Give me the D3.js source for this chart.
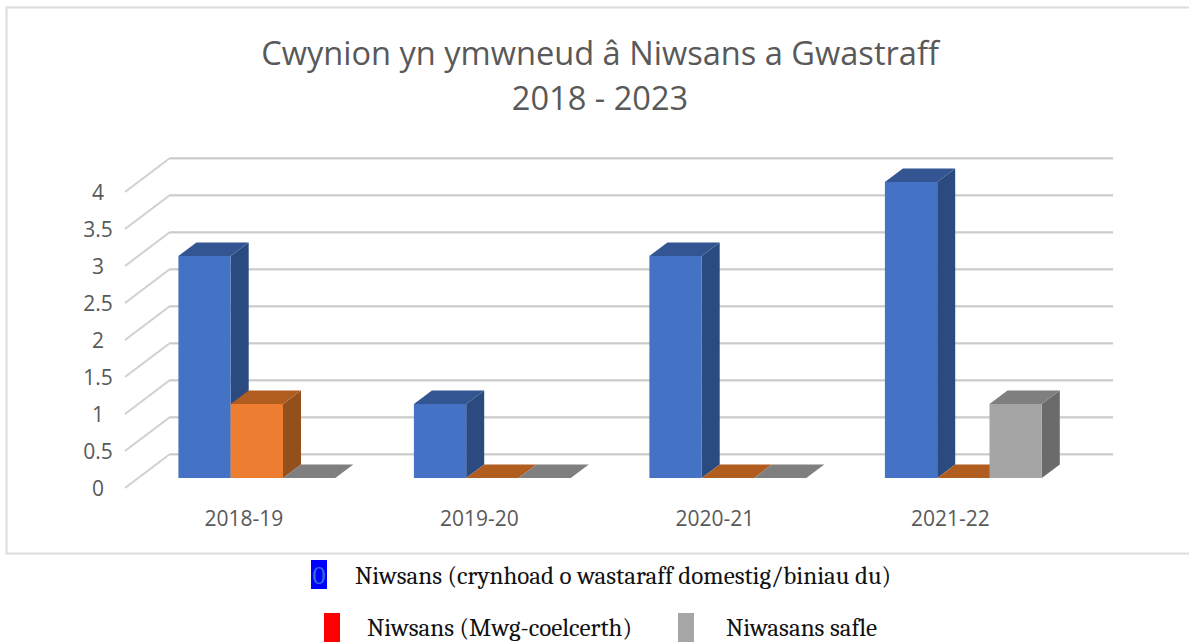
<!DOCTYPE html>
<html><head><meta charset="utf-8">
<script src="https://cdnjs.cloudflare.com/ajax/libs/d3/7.8.5/d3.min.js"></script>
<style>html,body{margin:0;padding:0;background:#fff;overflow:hidden}svg{display:block}</style>
</head><body><svg id="c" width="1189" height="644"></svg>
<script>
const categories = ["2018-19","2019-20","2020-21","2021-22"];
const seriesNames = ["Niwsans (crynhoad o wastaraff domestig/biniau du)","Niwsans (Mwg-coelcerth)","Niwasans safle"];
const seriesA = [3,1,3,4];
const seriesB = [1,0,0,0];
const seriesC = [0,0,0,1];
const yTicks = [0,0.5,1,1.5,2,2.5,3,3.5,4];
const titleLines = ["Cwynion yn ymwneud â Niwsans a Gwastraff","2018 - 2023"];

const svg = d3.select("#c");
const font = "'Open Sans','Noto Sans',sans-serif";
const y = d3.scaleLinear().domain([0,4]).range([478,182]);
const x0 = d3.scaleBand().domain(categories).range([125,1067]);
const groupPad = 53.4;
const x1 = d3.scaleBand().domain([0,1,2]).range([0,156.9]);
const depth = {dx:18, dy:-13.5};
const wall = {dx:45, dy:-34, x1:1113};

svg.append("rect").attr("x",6.5).attr("y",7.5).attr("width",1200).attr("height",546)
  .attr("fill","#fff").attr("stroke","#dcdcdc").attr("stroke-width",2);

const title = svg.append("text").attr("text-anchor","middle").attr("fill","#595959")
  .style("font-family","'Open Sans',sans-serif").style("font-size","32.6px");
titleLines.forEach((t,i)=>title.append("tspan").attr("x",600).attr("y",65+i*45).text(t));

yTicks.forEach(v=>{
  const yf = y(v)+10, yb = yf+wall.dy;
  svg.append("path").attr("d",d3.line()([[125,yf],[125+wall.dx,yb]])).attr("fill","none").attr("stroke","#d0d0d0").attr("stroke-width",2);
  svg.append("line").attr("x1",125+wall.dx).attr("x2",wall.x1).attr("y1",yb+1).attr("y2",yb+1).attr("stroke","#e0e0e0").attr("stroke-width",1.5);
  svg.append("line").attr("x1",125+wall.dx).attr("x2",wall.x1).attr("y1",yb).attr("y2",yb).attr("stroke","#aeaeae").attr("stroke-width",1.2);
  svg.append("text").attr("x",98).attr("y",yf+7.5).attr("text-anchor","middle").attr("fill","#595959")
    .style("font-family",font).style("font-size","21px").text(v);
});

const palette = [
  {front:"#4472c4",top:"#335592",side:"#2a4a80"},
  {front:"#ed7d31",top:"#b25d20",side:"#94501c"},
  {front:"#a5a5a5",top:"#7f7f7f",side:"#6b6b6b"}
];
const poly = (g,pts,fill)=>g.append("polygon").attr("points",pts.map(p=>p.join(",")).join(" ")).attr("fill",fill);
[seriesA,seriesB,seriesC].forEach((vals,s)=>{
  categories.forEach((c,i)=>{
    const g = svg.append("g");
    const l = x0(c)+groupPad+x1(s), r = l+x1.bandwidth();
    const t = y(vals[i]), b = y(0);
    const {dx,dy} = depth;
    if (vals[i]>0){
      poly(g,[[r,t],[r+dx,t+dy],[r+dx,b+dy],[r,b]],palette[s].side);
      g.append("rect").attr("x",l).attr("y",t).attr("width",r-l).attr("height",b-t).attr("fill",palette[s].front);
    }
    poly(g,[[l,t],[l+dx,t+dy],[r+dx,t+dy],[r,t]],palette[s].top);
  });
});

categories.forEach(c=>{
  svg.append("text").attr("x",x0(c)+groupPad+65.5).attr("y",526).attr("text-anchor","middle").attr("fill","#595959")
    .style("font-family",font).style("font-size","21px").text(c);
});

const legendFont = "Cambria, Caladea, 'Liberation Serif', serif";
const legend = [
  {sx:311,y:560,color:"#0000ff",tx:355,ty:584,label:seriesNames[0]},
  {sx:324,y:613,color:"#ff0000",tx:367,ty:636,label:seriesNames[1]},
  {sx:678,y:613,color:"#a6a6a6",tx:726,ty:636,label:seriesNames[2]}
];
legend.forEach(d=>{
  svg.append("rect").attr("x",d.sx).attr("y",d.y).attr("width",16).attr("height",29).attr("fill",d.color);
  svg.append("text").attr("x",d.tx).attr("y",d.ty).attr("fill","#111")
    .style("font-family",legendFont).style("font-size","25px").text(d.label);
});
svg.append("text").attr("x",319).attr("y",584).attr("text-anchor","middle").attr("fill","#2f6fd0")
  .style("font-family",legendFont).style("font-size","25px").text("0");
</script></body></html>
